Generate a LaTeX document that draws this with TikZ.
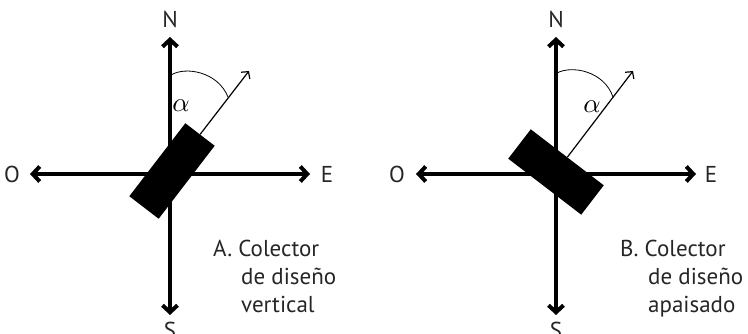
\documentclass[tikz,border=0pt]{standalone}
\usepackage{fontspec}
\setmainfont{PT Sans}
\usetikzlibrary{arrows.meta}
\definecolor{txt}{HTML}{262626}
\begin{document}
\begin{tikzpicture}[x=1pt,y=1pt,
  axisline/.style={line width=3.4pt,{Straight Barb[length=7pt,width=15pt,line width=4pt]}-{Straight Barb[length=7pt,width=15pt,line width=4pt]}},
  dirarrow/.style={line width=1.2pt,-{Straight Barb[length=5pt,width=11pt]}},
  anglearc/.style={line width=0.8pt},
  panel/.style={fill=black,draw=none,inner sep=0pt,minimum width=92pt,minimum height=37pt},
  lbl/.style={text=txt,font=\fontsize{23}{27}\selectfont,inner sep=0pt},
  captext/.style={lbl,anchor=base west},
  greek/.style={inner sep=0pt}]
\useasboundingbox (0,0) rectangle (748,334);
% ---------- A ----------
\coordinate (nA) at (170,297);
\coordinate (sA) at (170,19);
\coordinate (oA) at (30,160);
\coordinate (eA) at (310,160);
\node[lbl] (NA) at (170,315) {N};
\node[lbl] (SA) at (170,4) {S};
\node[lbl] (OA) at (12,160) {O};
\node[lbl] (EA) at (327,160) {E};
\draw[axisline] (sA) -- (nA);
\draw[axisline] (oA) -- (eA);
\node[panel,rotate=52.5] (RA) at (172,163) {};
\coordinate (tA) at (249,263);
\draw[dirarrow] (RA.east) -- (tA);
\coordinate (a1A) at (171,259);
\coordinate (a2A) at (228,237);
\draw[anglearc] (a1A) .. controls (186,268) and (218,262) .. (a2A);
\node[greek] (alA) at (181,228) {\scalebox{2.7}{$\alpha$}};
\node[captext] (A1) at (213,77) {A. Colector};
\node[captext] (A2) at (241,49) {de diseño};
\node[captext] (A3) at (241,21) {vertical};
% ---------- B ----------
\coordinate (nB) at (556,297);
\coordinate (sB) at (556,19);
\coordinate (oB) at (416,160);
\coordinate (eB) at (696,160);
\node[lbl] (NB) at (556,315) {N};
\node[lbl] (SB) at (556,4) {S};
\node[lbl] (OB) at (397,160) {O};
\node[lbl] (EB) at (711,160) {E};
\draw[axisline] (sB) -- (nB);
\draw[axisline] (oB) -- (eB);
\node[panel,rotate=-37.5] (RB) at (556,162) {};
\coordinate (tB) at (633,263);
\draw[dirarrow] (RB.north) -- (tB);
\coordinate (a1B) at (557,261);
\coordinate (a2B) at (613,237);
\draw[anglearc] (a1B) .. controls (572,269) and (604,263) .. (a2B);
\node[greek] (alB) at (592,227) {\scalebox{2.7}{$\alpha$}};
\node[captext] (B1) at (620,77) {B. Colector};
\node[captext] (B2) at (648,49) {de diseño};
\node[captext] (B3) at (648,21) {apaisado};
\end{tikzpicture}
\end{document}
